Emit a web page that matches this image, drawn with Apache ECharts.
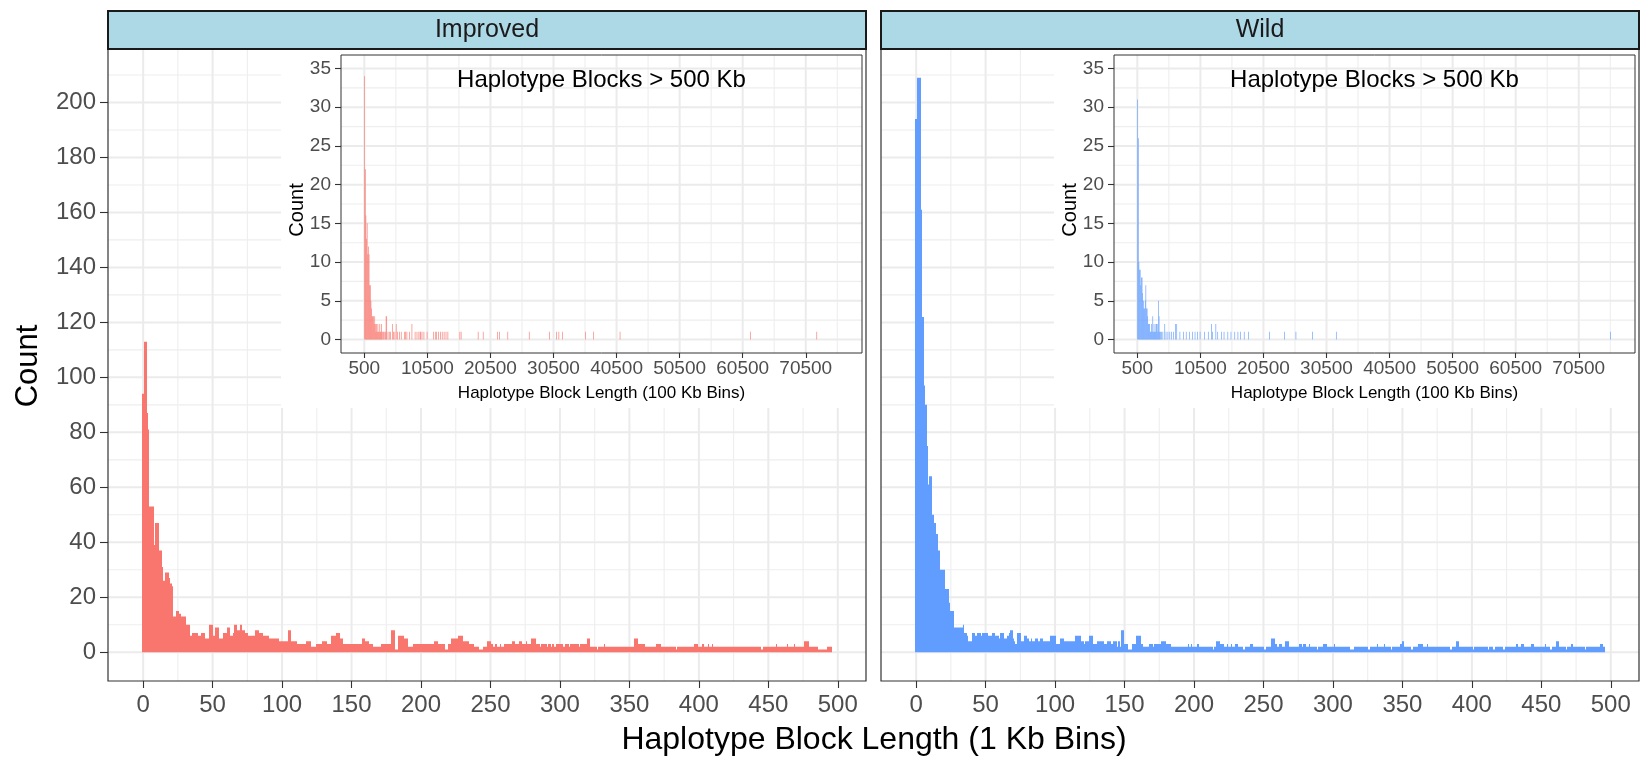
<!DOCTYPE html>
<html><head><meta charset="utf-8">
<script src="https://cdn.jsdelivr.net/npm/echarts@6/dist/echarts.min.js"></script>
<style>html,body{margin:0;padding:0;background:#fff}#c{width:1640px;height:757px}</style>
</head><body><div id="c"></div>
<script>
// ---------------- DATA ----------------
const panelNames = ['Improved', 'Wild'];
const mainBinWidth = 1;      // 1 Kb bins, centred on integers
const longBinWidth = 100;    // 100 Kb bins, [start, start+100)

// counts per 1 Kb bin, bins 0..495
const improvedCounts = [
 94,113,113,87,81,53,53,53,39,47,
 47,47,37,37,31,26,29,29,29,27,
 25,24,13,13,15,15,14,14,13,13,
 13,10,10,10,6,6,7,7,7,7,
 6,6,7,7,7,5,5,5,10,10,
 10,6,9,9,9,5,5,5,7,7,
 7,9,9,6,6,7,10,10,8,8,
 10,10,8,8,7,7,6,6,6,6,
 6,8,8,8,7,7,7,6,6,6,
 6,5,5,5,5,5,5,5,4,4,
 4,4,4,4,4,8,8,4,4,4,
 4,3,3,3,3,3,3,3,4,4,
 4,2,2,2,2,3,3,3,3,4,
 4,4,4,3,3,3,6,6,6,7,
 7,7,5,5,3,3,3,3,3,3,
 3,3,3,3,3,3,3,3,5,5,
 4,4,4,3,3,3,2,2,2,2,
 2,2,3,3,3,3,3,3,3,8,
 8,8,1,1,6,6,6,6,5,5,
 5,2,2,2,2,3,3,3,3,3,
 3,3,3,3,3,3,3,3,3,3,
 4,4,4,3,3,3,3,3,1,1,
 3,3,5,5,5,5,5,6,6,6,
 6,4,4,4,4,3,3,3,3,2,
 2,2,1,1,1,2,2,2,4,4,
 4,3,2,2,3,2,2,3,2,2,
 3,3,3,3,3,3,4,4,3,3,
 3,4,4,3,3,3,4,3,3,3,
 5,5,5,3,3,3,2,3,3,3,
 3,2,3,3,2,3,2,2,3,3,
 3,3,3,2,3,3,3,2,3,3,
 3,3,3,3,2,3,3,3,3,3,
 5,5,2,2,2,2,2,1,2,2,
 2,2,3,2,2,2,2,2,2,2,
 2,2,2,2,2,2,2,2,2,2,
 2,2,2,2,5,5,5,3,3,3,
 3,3,2,2,2,2,2,2,2,2,
 3,3,3,2,2,2,2,2,2,2,
 2,2,2,2,1,2,2,2,2,2,
 2,2,2,2,2,2,2,3,3,3,
 2,2,2,3,2,2,2,3,2,2,
 3,2,2,2,2,2,2,2,2,2,
 2,2,2,2,2,2,2,2,2,2,
 2,2,2,2,2,2,2,2,2,2,
 2,2,2,2,2,1,1,2,2,2,
 2,2,2,2,2,2,3,2,2,2,
 2,2,2,2,3,2,2,2,2,3,
 2,2,2,2,2,2,4,4,4,4,
 2,2,2,2,2,2,1,1,1,1,
 1,1,1,2,2,2
];
const wildCounts = [
 194,209,209,209,161,122,97,90,75,61,
 64,64,50,47,47,43,37,37,30,30,
 30,23,23,23,18,15,15,15,9,9,
 9,9,9,9,10,7,7,6,4,4,
 4,7,7,6,7,7,7,6,7,7,
 7,7,6,6,6,7,7,6,6,6,
 5,7,7,7,5,5,6,7,8,8,
 5,4,3,7,7,7,4,4,6,6,
 5,5,4,5,4,4,5,5,4,4,
 5,5,4,4,4,4,4,6,6,6,
 6,3,3,3,5,5,5,4,4,4,
 4,4,4,4,4,6,6,6,6,4,
 4,3,4,4,4,6,6,6,3,3,
 3,4,4,4,4,4,3,3,4,4,
 4,3,4,4,4,2,4,2,8,8,
 3,3,3,1,1,1,3,3,3,6,
 6,6,3,3,2,2,2,2,3,3,
 3,2,3,3,3,3,3,4,4,4,
 3,3,3,3,2,2,2,2,2,2,
 2,2,2,2,2,2,3,2,3,2,
 2,2,2,3,2,2,2,2,2,2,
 2,2,2,2,1,2,4,4,4,3,
 3,3,2,2,3,2,2,3,2,2,
 3,3,2,2,2,2,1,2,2,2,
 2,3,3,2,2,2,2,2,2,2,
 2,1,2,2,2,2,5,5,5,3,
 2,2,3,3,2,2,4,4,4,2,
 2,2,2,2,2,2,3,3,2,3,
 3,2,2,3,2,2,2,2,2,1,
 2,2,2,3,3,3,2,2,2,2,
 2,3,2,2,2,2,2,2,2,2,
 2,2,2,1,1,1,2,2,2,2,
 2,2,2,2,2,2,1,2,2,2,
 2,2,3,2,2,2,2,3,2,2,
 2,2,1,2,2,2,2,2,2,3,
 4,4,2,2,2,2,2,1,2,2,
 2,2,3,3,3,2,2,2,3,2,
 2,2,2,2,2,2,2,2,2,2,
 2,2,2,2,2,1,2,2,2,4,
 4,2,2,2,2,2,2,2,2,2,
 2,1,2,2,2,2,2,2,2,2,
 2,2,1,2,2,2,1,2,2,2,
 2,2,2,1,2,2,2,2,2,2,
 2,2,3,3,2,2,3,3,2,2,
 2,2,2,3,3,2,2,2,2,2,
 2,2,2,3,2,2,2,1,2,2,
 2,4,4,2,2,2,2,2,1,2,
 2,2,3,2,2,2,2,2,2,2,
 2,2,1,2,2,2,2,2,2,2,
 2,2,2,3,3,2
];
// blocks > 500 Kb : [bin start (Kb), count], non-empty 100 Kb bins
const improvedLong = [
 [500,34],[600,22],[700,16],[800,13],[900,15],[1000,11],[1100,12],[1200,11],[1300,7],[1400,7],
 [1500,5],[1600,4],[1700,3],[1800,3],[1900,3],[2000,2],[2100,3],[2200,2],[2300,1],[2400,2],
 [2500,1],[2600,2],[2700,1],[2800,1],[2900,2],[3000,1],[3100,1],[3200,2],[3300,1],[3500,1],
 [3600,1],[3800,1],[3900,3],[4000,3],[4200,1],[4400,1],[4600,1],[4900,2],[5100,1],[5300,1],
 [5500,2],[5700,1],[6000,1],[6300,1],[6800,1],[7000,1],[7200,1],[7600,1],[8000,2],[8500,1],
 [8800,1],[9100,1],[9300,1],[9400,1],[9600,1],[9900,1],[10400,1],[11400,1],[11700,1],[11900,1],
 [12200,1],[12500,1],[12800,1],[13100,1],[13400,1],[13700,1],[15600,1],[15800,1],[18500,1],[19300,1],
 [21600,1],[21900,1],[23200,1],[26600,1],[29800,1],[30900,1],[31300,1],[31900,1],[35500,1],[36800,1],
 [41000,1],[61700,1],[72200,1]
];
const wildLong = [
 [500,31],[600,26],[700,10],[800,9],[900,9],[1000,7],[1100,8],[1200,8],[1300,6],[1400,5],
 [1500,4],[1600,4],[1700,5],[1800,7],[1900,4],[2000,4],[2100,3],[2200,2],[2300,2],[2400,2],
 [2500,1],[2600,1],[2700,2],[2800,1],[2900,3],[3000,1],[3100,2],[3200,1],[3300,1],[3400,2],
 [3500,2],[3600,2],[3700,1],[3800,5],[3900,3],[4000,1],[4100,1],[4300,1],[4500,1],[4800,2],
 [5000,1],[5300,1],[5600,1],[5900,1],[6200,1],[6500,2],[6700,2],[7200,1],[7800,1],[8200,1],
 [8700,1],[9200,1],[9600,1],[10000,1],[10400,1],[11100,1],[11700,1],[12200,2],[12400,1],[12900,2],
 [13200,1],[13800,1],[14200,1],[14800,1],[15300,1],[15900,1],[16400,1],[16800,1],[17400,1],[18100,1],
 [21400,1],[23800,1],[25600,1],[28200,1],[32000,1],[75500,1]
];
// ticks
const mainXTicks = [0,50,100,150,200,250,300,350,400,450,500];
const mainXMinor = [25,75,125,175,225,275,325,375,425,475];
const mainYTicks = [0,20,40,60,80,100,120,140,160,180,200];
const mainYMinor = [10,30,50,70,90,110,130,150,170,190,210];
const insetXTicks = [500,10500,20500,30500,40500,50500,60500,70500];
const insetXMinor = [5500,15500,25500,35500,45500,55500,65500,75500];
const insetYTicks = [0,5,10,15,20,25,30,35];
const insetYMinor = [2.5,7.5,12.5,17.5,22.5,27.5,32.5];
const mainXTitle = 'Haplotype Block Length (1 Kb Bins)';
const mainYTitle = 'Count';
const insetTitle = 'Haplotype Blocks > 500 Kb';
const insetXTitle = 'Haplotype Block Length (100 Kb Bins)';
const insetYTitle = 'Count';
const colors = ['#F8766D', '#619CFF'];
const allCounts = [improvedCounts, wildCounts];
const allLong = [improvedLong, wildLong];

// ---------------- LAYOUT ----------------
const FONT = '"Liberation Sans", Arial, sans-serif';
const MAIN_LEFT = [108, 881], MAIN_TOP = 49, MAIN_W = 758, MAIN_H = 632;
const INSET_OFF = 233, INSET_TOP = 55, INSET_W = 521, INSET_H = 298;
const MAIN_X = [-25.3, 520.3], MAIN_Y = [-10.45, 219.45];
const INSET_X = [-3200, 79420], INSET_Y = [-1.75, 36.75];

function gridLines(xMaj, xMin, yMaj, yMin, xr, yr) {
  return function (params, api) {
    const ch = [];
    const seg = (a, b, w, col) => ch.push({type: 'line', shape: {x1: a[0], y1: a[1], x2: b[0], y2: b[1]}, style: {stroke: col, lineWidth: w}});
    xMin.forEach(v => seg(api.coord([v, yr[0]]), api.coord([v, yr[1]]), 1.1, '#EEEEEE'));
    yMin.forEach(v => seg(api.coord([xr[0], v]), api.coord([xr[1], v]), 1.1, '#EEEEEE'));
    xMaj.forEach(v => seg(api.coord([v, yr[0]]), api.coord([v, yr[1]]), 2, '#EBEBEB'));
    yMaj.forEach(v => seg(api.coord([xr[0], v]), api.coord([xr[1], v]), 2, '#EBEBEB'));
    return {type: 'group', children: ch};
  };
}
function histItem(color) {
  return function (params, api) {
    const x = api.value(0), y = api.value(1);
    const a = api.coord([x - mainBinWidth / 2, y]), b = api.coord([x + mainBinWidth / 2, 0]);
    const x0 = Math.round(a[0]), x1 = Math.round(b[0]);
    return {type: 'rect', shape: {x: x0, y: a[1], width: x1 - x0, height: b[1] - a[1]}, style: {fill: color}};
  };
}
function longItem(color) {
  return function (params, api) {
    const s = api.value(0), y = api.value(1);
    const a = api.coord([s, y]), b = api.coord([s + longBinWidth, 0]);
    return {type: 'rect', shape: {x: a[0], y: a[1], width: b[0] - a[0], height: b[1] - a[1]}, style: {fill: color}};
  };
}
function axis(gi, range, ticks, fs, margin, tickLen) {
  return {
    type: 'value', gridIndex: gi, min: range[0], max: range[1],
    splitLine: {show: false}, axisLine: {show: false, onZero: false},
    axisTick: {show: true, customValues: ticks, length: tickLen, lineStyle: {color: '#333333', width: 1.1}},
    axisLabel: {show: true, customValues: ticks, formatter: v => String(v), fontSize: fs, color: '#4D4D4D', fontFamily: FONT, margin: margin}
  };
}

const grids = [], xAxes = [], yAxes = [], series = [], graphics = [];
for (let p = 0; p < 2; p++) {
  grids.push({left: MAIN_LEFT[p], top: MAIN_TOP, width: MAIN_W, height: MAIN_H, show: false});
}
for (let p = 0; p < 2; p++) {
  grids.push({left: MAIN_LEFT[p] + INSET_OFF, top: INSET_TOP, width: INSET_W, height: INSET_H, show: false});
}
for (let p = 0; p < 2; p++) {
  const xa = axis(p, MAIN_X, mainXTicks, 24, 12, 7);
  const ya = axis(p, MAIN_Y, mainYTicks, 24, 12, 8);
  if (p === 1) { ya.axisLabel.show = false; ya.axisTick.show = false; }
  xAxes.push(xa); yAxes.push(ya);
}
for (let p = 0; p < 2; p++) {
  const xa = axis(2 + p, INSET_X, insetXTicks, 19, 6, 5);
  const ya = axis(2 + p, INSET_Y, insetYTicks, 19, 10, 6);
  xa.z = 12; ya.z = 12;
  xAxes.push(xa); yAxes.push(ya);
}
for (let p = 0; p < 2; p++) {
  series.push({type: 'custom', xAxisIndex: p, yAxisIndex: p, z: 1, silent: true, data: [[0, 0]],
    renderItem: gridLines(mainXTicks, mainXMinor, mainYTicks, mainYMinor, MAIN_X, MAIN_Y)});
  series.push({type: 'custom', xAxisIndex: p, yAxisIndex: p, z: 3, silent: true,
    data: allCounts[p].map((c, i) => [i * mainBinWidth, c]), renderItem: histItem(colors[p])});
  series.push({type: 'custom', xAxisIndex: 2 + p, yAxisIndex: 2 + p, z: 6, silent: true, data: [[500, 0]],
    renderItem: gridLines(insetXTicks, insetXMinor, insetYTicks, insetYMinor, INSET_X, INSET_Y)});
  series.push({type: 'custom', xAxisIndex: 2 + p, yAxisIndex: 2 + p, z: 7, silent: true,
    data: allLong[p], renderItem: longItem(colors[p])});

  const L = MAIN_LEFT[p];
  graphics.push({type: 'rect', z: 5, silent: true, shape: {x: L + 173, y: MAIN_TOP, width: MAIN_W - 173, height: 359}, style: {fill: '#ffffff'}});
  graphics.push({type: 'rect', z: 9, silent: true, shape: {x: L + INSET_OFF, y: INSET_TOP, width: INSET_W, height: INSET_H}, style: {fill: null, stroke: '#333333', lineWidth: 1}});
  graphics.push({type: 'rect', z: 20, silent: true, shape: {x: L, y: MAIN_TOP, width: MAIN_W, height: MAIN_H}, style: {fill: null, stroke: '#333333', lineWidth: 1.2}});
  graphics.push({type: 'rect', z: 21, silent: true, shape: {x: L, y: 11, width: MAIN_W, height: 38}, style: {fill: '#ADD8E6', stroke: '#1A1A1A', lineWidth: 2}});
  graphics.push({type: 'text', z: 22, silent: true, x: L + MAIN_W / 2, y: 30,
    style: {text: panelNames[p], font: '25px ' + FONT, fill: '#1A1A1A', textAlign: 'center', textVerticalAlign: 'middle'}});
  const cx = L + INSET_OFF + INSET_W / 2;
  graphics.push({type: 'text', z: 13, silent: true, x: cx, y: 80,
    style: {text: insetTitle, font: '24px ' + FONT, fill: '#000000', textAlign: 'center', textVerticalAlign: 'middle'}});
  graphics.push({type: 'text', z: 13, silent: true, x: cx, y: 393,
    style: {text: insetXTitle, font: '17px ' + FONT, fill: '#000000', textAlign: 'center', textVerticalAlign: 'middle'}});
  graphics.push({type: 'text', z: 13, silent: true, x: L + 189, y: 210, rotation: Math.PI / 2,
    style: {text: insetYTitle, font: '20px ' + FONT, fill: '#000000', textAlign: 'center', textVerticalAlign: 'middle'}});
}
graphics.push({type: 'text', z: 22, silent: true, x: 874, y: 740,
  style: {text: mainXTitle, font: '32px ' + FONT, fill: '#000000', textAlign: 'center', textVerticalAlign: 'middle'}});
graphics.push({type: 'text', z: 22, silent: true, x: 28, y: 366, rotation: Math.PI / 2,
  style: {text: mainYTitle, font: '31px ' + FONT, fill: '#000000', textAlign: 'center', textVerticalAlign: 'middle'}});

const chart = echarts.init(document.getElementById('c'), null, {renderer: 'canvas', width: 1640, height: 757});
chart.setOption({
  animation: false,
  backgroundColor: '#ffffff',
  grid: grids, xAxis: xAxes, yAxis: yAxes, series: series, graphic: graphics
});
</script></body></html>
